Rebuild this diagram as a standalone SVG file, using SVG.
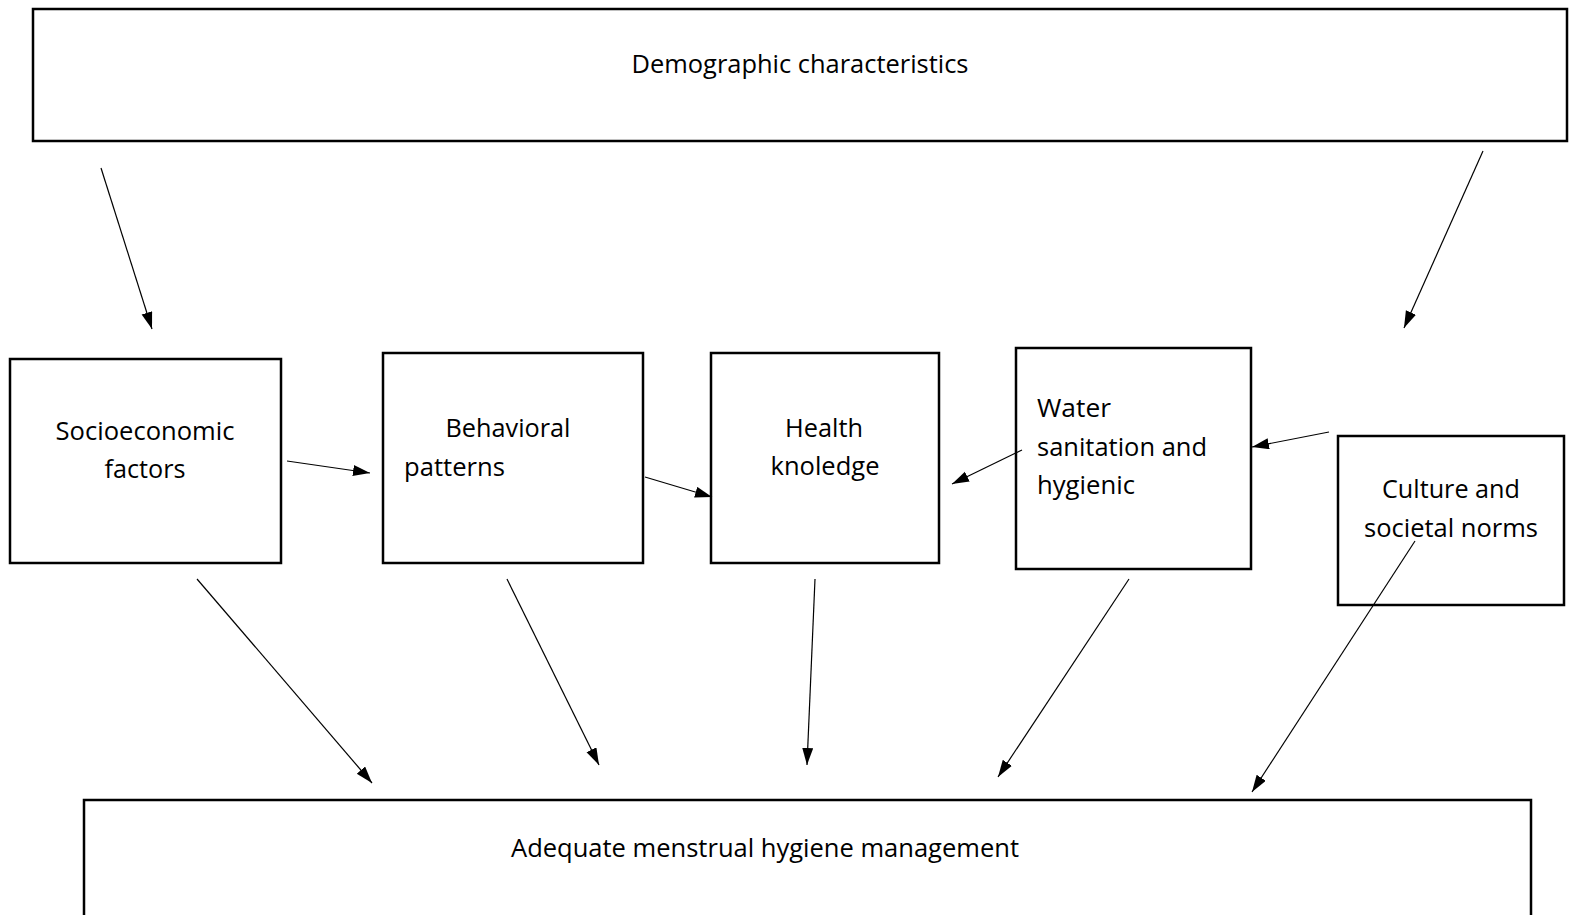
<svg xmlns="http://www.w3.org/2000/svg" width="1577" height="915" viewBox="0 0 1577 915">
<defs>
<style>
.box{fill:#fff;stroke:#000;stroke-width:2.5}
.t{font-family:"Open Sans","Liberation Sans",sans-serif;font-size:26px;fill:#000}
.c{text-anchor:middle}
.ln{stroke:#000;stroke-width:1.2;fill:none;marker-end:url(#ah)}
</style>
<marker id="ah" markerUnits="userSpaceOnUse" markerWidth="18" markerHeight="12" refX="17" refY="5.5" orient="auto" viewBox="0 0 18 12">
<path d="M0,0 L17,5.5 L0,11 z" fill="#000"/>
</marker>
</defs>
<rect width="1577" height="915" fill="#fff"/>
<g id="demographic">
<rect class="box" x="33" y="9" width="1534" height="132"/>
<text class="t c" x="800" y="73" textLength="337" lengthAdjust="spacingAndGlyphs">Demographic characteristics</text>
</g>
<g id="socioeconomic">
<rect class="box" x="10" y="359" width="271" height="204"/>
<text class="t c" x="145" y="440" textLength="179" lengthAdjust="spacingAndGlyphs">Socioeconomic</text>
<text class="t c" x="145" y="478" textLength="81" lengthAdjust="spacingAndGlyphs">factors</text>
</g>
<g id="behavioral">
<rect class="box" x="383" y="353" width="260" height="210"/>
<text class="t c" x="508" y="437" textLength="125" lengthAdjust="spacingAndGlyphs">Behavioral</text>
<text class="t" x="404" y="476" textLength="101" lengthAdjust="spacingAndGlyphs">patterns</text>
</g>
<g id="health">
<rect class="box" x="711" y="353" width="228" height="210"/>
<text class="t c" x="824" y="437" textLength="78" lengthAdjust="spacingAndGlyphs">Health</text>
<text class="t c" x="825" y="475" textLength="109" lengthAdjust="spacingAndGlyphs">knoledge</text>
</g>
<g id="water">
<rect class="box" x="1016" y="348" width="235" height="221"/>
<text class="t" x="1037" y="417" textLength="74" lengthAdjust="spacingAndGlyphs">Water</text>
<text class="t" x="1037" y="456" textLength="170" lengthAdjust="spacingAndGlyphs">sanitation and</text>
<text class="t" x="1037" y="494" textLength="98" lengthAdjust="spacingAndGlyphs">hygienic</text>
</g>
<g id="culture">
<rect class="box" x="1338" y="436" width="226" height="169"/>
<text class="t c" x="1451" y="498" textLength="138" lengthAdjust="spacingAndGlyphs">Culture and</text>
<text class="t c" x="1451" y="537" textLength="174" lengthAdjust="spacingAndGlyphs">societal norms</text>
</g>
<g id="adequate">
<rect class="box" x="84" y="800" width="1447" height="130"/>
<text class="t c" x="765" y="857" textLength="508" lengthAdjust="spacingAndGlyphs">Adequate menstrual hygiene management</text>
</g>
<g id="connectors">
<line class="ln" x1="101" y1="168" x2="152" y2="329"/>
<line class="ln" x1="1483" y1="151" x2="1404" y2="328"/>
<line class="ln" x1="287" y1="461" x2="370" y2="473"/>
<line class="ln" x1="645" y1="477" x2="712" y2="497"/>
<line class="ln" x1="1022" y1="450" x2="952" y2="484"/>
<line class="ln" x1="1329" y1="432" x2="1252" y2="447"/>
<line class="ln" x1="197" y1="579" x2="372" y2="783"/>
<line class="ln" x1="507" y1="579" x2="599" y2="765"/>
<line class="ln" x1="815" y1="579" x2="807" y2="765"/>
<line class="ln" x1="1129" y1="579" x2="998" y2="777"/>
<line class="ln" x1="1415" y1="541" x2="1252" y2="792"/>
</g>
</svg>
